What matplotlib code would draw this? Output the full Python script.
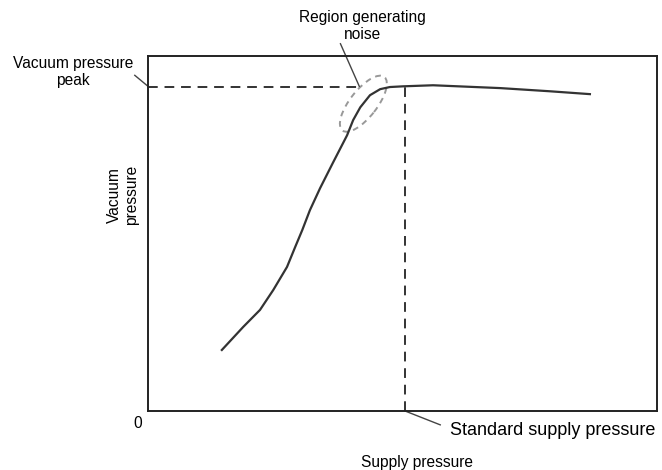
import matplotlib.pyplot as plt
from matplotlib.patches import Ellipse
from matplotlib.transforms import Affine2D

plt.rcParams['font.family'] = ['Liberation Sans', 'DejaVu Sans']

# curve (axes units 0..100)
supply = [14.5, 18.7, 22.0, 24.6, 27.3, 28.9, 30.3, 31.8, 33.8, 36.3, 39.1,
          40.3, 41.7, 43.6, 45.6, 47.5, 50.1, 56.0, 69.2, 79.0, 86.8]
vacuum = [17.2, 23.7, 28.5, 34.1, 40.6, 46.2, 51.0, 56.6, 62.8, 69.9, 77.7,
          82.0, 85.6, 89.0, 90.7, 91.3, 91.5, 91.8, 91.0, 90.1, 89.3]
peak_y = 91.4
std_x = 50.5
noise_xy = (42.3, 86.6)

fig = plt.figure(figsize=(6.62, 4.7), dpi=100)
ax = fig.add_axes([0.2236, 0.1255, 0.769, 0.755])
ax.set_xlim(0, 100)
ax.set_ylim(0, 100)
ax.set_xticks([])
ax.set_yticks([])
for s in ax.spines.values():
    s.set_linewidth(1.4)
    s.set_color('#222222')

ax.plot(supply, vacuum, color='#333333', lw=1.6, solid_joinstyle='round')
ax.plot([0, 41.5], [peak_y, peak_y], color='#333333', lw=1.4, ls=(0, (5, 3.5)))
ax.plot([std_x, std_x], [0, peak_y], color='#333333', lw=1.4, ls=(0, (5, 3.5)))

# dashed ellipse drawn in pixels so its shape does not depend on axis scaling
cx, cy = ax.transData.transform(noise_xy)
ell = Ellipse((0, 0), 68, 27, angle=52, fill=False, ec='#999999', lw=1.4,
              ls=(0, (3, 2.5)), transform=Affine2D().translate(cx, cy))
ax.add_artist(ell)

lead = dict(color='#444444', lw=1, clip_on=False)
ax.plot([37.8, 41.5], [103.5, 91.5], **lead)
ax.plot([-2.6, 0], [94.6, 91.5], **lead)
ax.plot([std_x, 57.4], [0, -3.9], **lead)

ax.text(42.2, 108.5, 'Region generating\nnoise', ha='center', va='center',
        fontsize=11.2)
ax.text(-14.7, 95.5, 'Vacuum pressure\npeak', ha='center', va='center',
        fontsize=11.2)
ax.text(59.3, -5.6, 'Standard supply pressure', ha='left', va='center',
        fontsize=13)
ax.text(-2.0, -3.4, '0', ha='center', va='center', fontsize=11.2)
ax.text(52.8, -14.4, 'Supply pressure', ha='center', va='center', fontsize=11.2)
ax.text(-4.9, 60.8, 'Vacuum\npressure', ha='center', va='center',
        fontsize=11.2, rotation=90)

fig.savefig('out.png', dpi=100)
